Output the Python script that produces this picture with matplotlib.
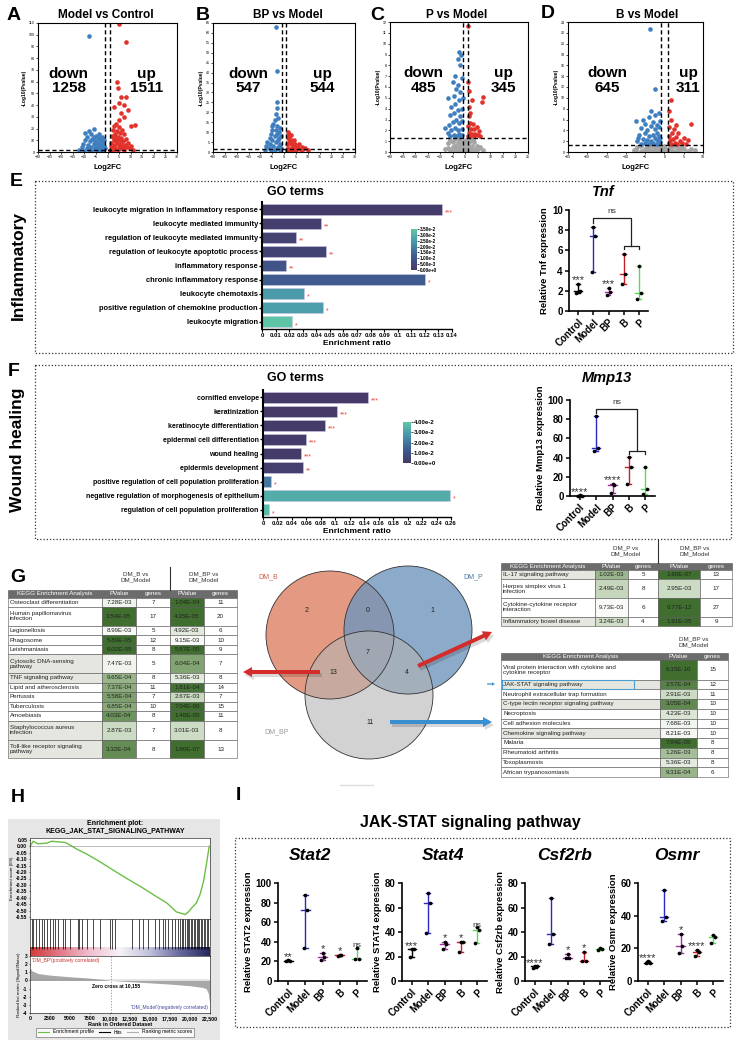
import numpy as np
import matplotlib
matplotlib.use('Agg')
import matplotlib.pyplot as plt
from matplotlib.patches import Rectangle, Circle, FancyArrow
from matplotlib.colors import LinearSegmentedColormap, Normalize
from matplotlib.cm import ScalarMappable
from matplotlib.lines import Line2D

plt.rcParams['font.family'] = ['Liberation Sans', 'DejaVu Sans']

# ---------------- volcano data (log2FC, -log10 P) ----------------
A_down = [(-12.5, 2), (-11, 4), (-10.5, 7), (-10, 1), (-9.5, 10), (-9, 3), (-8.8, 13), (-8.5, 6), (-8, 2),
          (-7.5, 9), (-7.2, 15), (-7, 4), (-6.8, 11), (-6.5, 1), (-6, 7), (-6, 13), (-5.5, 3), (-5.2, 9),
          (-5, 14), (-4.8, 5), (-4.5, 1), (-4.2, 11), (-4, 8), (-3.8, 3), (-3.5, 12), (-3.2, 6), (-3, 2),
          (-2.8, 9), (-2.5, 4), (-2.2, 11), (-2, 7), (-1.8, 2), (-1.5, 10), (-1.3, 5), (-1.1, 3),
          (-9.8, 16), (-7.8, 18), (-5.8, 20), (-3.6, 15), (-2.4, 13), (-8, 99)]
A_up = [(1.2, 2), (1.5, 8), (1.8, 14), (2, 4), (2.2, 19), (2.5, 1), (2.6, 10), (2.8, 22), (3, 6), (3.2, 15),
        (3.4, 3), (3.6, 12), (3.8, 24), (4, 8), (4.2, 18), (4.4, 2), (4.6, 13), (4.8, 5), (5, 21), (5.2, 10),
        (5.4, 16), (5.6, 3), (5.8, 7), (6, 12), (6.2, 19), (6.5, 4), (6.8, 9), (7, 15), (7.3, 2), (7.6, 6),
        (8, 11), (8.5, 4), (9, 8), (9.5, 3), (10, 5), (11, 2), (1.5, 5), (2.4, 13), (3.5, 9), (4.5, 11),
        (5.5, 6), (12, 23), (10, 22), (4, 60), (4.5, 55), (6, 47), (8, 47), (5, 42), (7, 40), (3, 38),
        (9, 36), (6, 33), (7, 30), (5, 27), (5, 109), (8, 94)]
B_down = [(-8, 1), (-7.5, 3), (-7, 5), (-6.5, 2), (-6, 7), (-6, 4), (-5.5, 9), (-5.5, 1), (-5, 6), (-5, 11),
          (-4.5, 3), (-4.5, 14), (-4, 8), (-4, 1), (-4, 16), (-3.5, 5), (-3.5, 11), (-3, 2), (-3, 9), (-3, 13),
          (-2.5, 6), (-2.5, 17), (-2.2, 3), (-2, 10), (-2, 7), (-1.8, 1), (-1.5, 4), (-1.5, 12), (-1.2, 8),
          (-1.1, 2), (-3.5, 19), (-3, 22), (-2.8, 25), (-2.9, 41), (-3.3, 63), (-5, 13)]
B_up = [(1.2, 1), (1.3, 4), (1.5, 7), (1.8, 2), (2, 5), (2.2, 8), (2.5, 1), (2.8, 4), (3, 6), (3.2, 2),
        (3.5, 5), (3.8, 1), (4, 3), (4.2, 6), (4.5, 2), (4.8, 4), (5, 1), (5.5, 3), (6, 2), (6.5, 4), (7, 1),
        (7.5, 2.5), (8, 1.5), (9, 2), (10, 1), (1.5, 10), (2, 9), (3, 8.5), (2.5, 6), (4, 4.5)]
C_ns = [(-8, 0.3), (-7, 0.8), (-6, 0.2), (-6, 1.1), (-5, 0.5), (-5, 0.9), (-4, 0.1), (-4, 0.6), (-4, 1.2),
        (-3, 0.3), (-3, 0.8), (-2.5, 1.1), (-2, 0.2), (-2, 0.6), (-1.5, 0.9), (-1, 0.1), (-1, 0.5), (-0.5, 1.0),
        (0, 0.2), (0, 0.7), (0.5, 0.4), (0.5, 1.2), (1, 0.1), (1, 0.8), (1.5, 0.5), (2, 0.2), (2, 1.0),
        (2.5, 0.6), (3, 0.3), (3.5, 0.9), (4, 0.2), (4.5, 0.6), (5, 0.3), (6, 0.5), (7, 0.2), (-7, 0.4),
        (-5.5, 0.1), (3, 1.2), (-3.5, 0.4), (1.5, 1.1)]
C_down = [(-7, 1.8), (-6.5, 2.5), (-6, 3.4), (-6, 1.5), (-5.5, 2.0), (-5.5, 4.2), (-5, 2.8), (-5, 6.5),
          (-4.5, 1.6), (-4.5, 3.6), (-4.5, 5.2), (-4, 2.2), (-4, 4.4), (-4, 7.0), (-3.5, 1.5), (-3.5, 3.0),
          (-3.5, 5.8), (-3, 2.0), (-3, 3.9), (-3, 6.2), (-2.5, 1.7), (-2.5, 2.7), (-2.5, 4.8), (-2, 1.4),
          (-2, 3.3), (-2, 5.5), (-2, 8.0), (-1.5, 2.1), (-1.5, 4.0), (-1.5, 6.8), (-1.2, 1.6), (-1.2, 2.9),
          (-1.1, 5.0), (-2.5, 9.2), (-3, 8.6), (-1.8, 9.0), (-8, 2.2), (-6.8, 5.0)]
C_up = [(1.1, 1.5), (1.2, 2.4), (1.3, 3.3), (1.5, 1.8), (1.6, 4.2), (1.8, 2.7), (2, 1.5), (2, 3.6), (2.3, 2.1),
        (2.5, 4.8), (2.8, 1.7), (3, 2.6), (3.3, 1.5), (3.6, 2.1), (4, 1.7), (4.5, 2.3), (5, 1.6), (5.5, 1.9),
        (6, 1.5), (1.4, 5.6), (1.2, 6.5), (6.5, 4.6), (7, 5.1), (1.1, 11.6)]
D_ns = [(-8, 0.4), (-7, 0.9), (-6, 0.2), (-6, 1.1), (-5, 0.6), (-4.5, 1.2), (-4, 0.2), (-4, 0.8), (-3, 0.4),
        (-3, 1.1), (-2.5, 0.7), (-2, 0.2), (-2, 1.0), (-1.5, 0.5), (-1, 0.2), (-1, 0.9), (-0.5, 0.5), (0, 0.2),
        (0, 1.1), (0.5, 0.6), (1, 0.3), (1.5, 0.9), (2, 0.4), (2.5, 1.1), (3, 0.2), (3.5, 0.7), (4, 0.3),
        (5, 0.6), (6, 0.2), (7, 0.5), (8, 0.3), (-5, 0.1), (4.5, 1.0), (-7.5, 0.3)]
D_down = [(-7.5, 5.8), (-7, 2.0), (-6.5, 3.2), (-6, 1.5), (-6, 4.5), (-5.5, 2.4), (-5.5, 6.0), (-5, 1.6),
          (-5, 3.5), (-5, 5.2), (-4.5, 2.2), (-4.5, 4.0), (-4, 1.5), (-4, 3.0), (-4, 6.5), (-3.5, 2.0),
          (-3.5, 4.8), (-3.5, 7.5), (-3, 1.6), (-3, 3.2), (-3, 5.5), (-2.5, 2.5), (-2.5, 4.2), (-2.5, 6.8),
          (-2, 1.5), (-2, 3.6), (-2, 5.0), (-1.8, 2.2), (-1.5, 3.0), (-1.5, 4.6), (-1.5, 7.2), (-1.2, 1.8),
          (-1.2, 5.8), (-1.1, 2.6), (-2.4, 11.7), (-3.7, 22.7), (-6.8, 2.6)]
D_up = [(1.1, 1.6), (1.2, 3.0), (1.3, 4.6), (1.5, 2.2), (1.6, 6.0), (1.8, 1.5), (2, 3.5), (2.2, 2.4),
        (2.5, 4.2), (2.8, 1.7), (3, 2.8), (3.3, 1.5), (3.6, 3.6), (4, 2.0), (4.5, 1.6), (5, 2.6), (5.5, 1.5),
        (6, 2.2), (1.7, 9.6), (1.3, 7.5), (7, 5.2), (3, 5.0)]
deg_counts = {'A': (1258, 1511), 'B': (547, 544), 'C': (485, 345), 'D': (645, 311)}

# ---------------- GO enrichment ----------------
E_terms = ['leukocyte migration in inflammatory response', 'leukocyte mediated immunity',
           'regulation of leukocyte mediated immunity', 'regulation of leukocyte apoptotic process',
           'inflammatory response', 'chronic inflammatory response', 'leukocyte chemotaxis',
           'positive regulation of chemokine production', 'leukocyte migration']
E_ratio = [0.133, 0.0435, 0.025, 0.047, 0.0175, 0.12, 0.031, 0.045, 0.022]
E_padj = [0.0005, 0.002, 0.003, 0.0035, 0.0095, 0.012, 0.025, 0.026, 0.034]
F_terms = ['cornified envelope', 'keratinization', 'keratinocyte differentiation',
           'epidermal cell differentiation', 'wound healing', 'epidermis development',
           'positive regulation of cell population proliferation',
           'negative regulation of morphogenesis of epithelium', 'regulation of cell population proliferation']
F_ratio = [0.145, 0.103, 0.086, 0.06, 0.053, 0.055, 0.011, 0.259, 0.008]
F_padj = [0.0002, 0.0003, 0.0004, 0.0005, 0.0006, 0.002, 0.02, 0.033, 0.037]

# ---------------- qPCR expression (3 replicates per group) ----------------
groups = ['Control', 'Model', 'BP', 'B', 'P']
Tnf = [[1.8, 1.95, 2.7], [3.9, 7.45, 8.3], [1.6, 1.9, 2.3], [2.7, 3.7, 5.6], [1.15, 1.75, 4.45]]
Tnf_sig = ['***', '', '***', '', '']
Mmp13 = [[0.3, 0.5, 0.6], [47, 50, 83], [3, 11, 12.5], [13, 30, 41], [2, 7, 30]]
Mmp13_sig = ['****', '', '****', '', '']
Stat2 = [[20, 20.5, 21], [34, 72.5, 88], [21, 24, 29], [26, 26.5, 27], [22, 22, 34]]
Stat4 = [[20, 26, 26], [39, 64, 72], [26, 30, 32], [24, 32, 32], [31, 42, 44]]
Csf2rb = [[11, 12, 12], [30, 38, 68], [19, 19, 22], [16, 16, 24], [25, 26, 27]]
Osmr = [[11, 11, 12], [37, 39, 56], [17, 21.5, 29], [15.5, 18, 19], [23.5, 27, 28]]
I_genes = ['Stat2', 'Stat4', 'Csf2rb', 'Osmr']
I_ylabels = ['Relative STAT2 expression', 'Relative STAT4 expression',
             'Relative Csf2rb expression', 'Relative Osmr expression']
I_values = [Stat2, Stat4, Csf2rb, Osmr]
I_sig = [['**', '', '*', '*', 'ns'], ['***', '', '*', '*', 'ns'],
         ['****', '', '*', '*', ''], ['****', '', '*', '****', '']]
I_ymax = [100, 80, 80, 60]

# ---------------- KEGG tables ----------------
GL_terms = ['Osteoclast differentiation', 'Human papillomavirus\ninfection', 'Legionellosis', 'Phagosome',
            'Leishmaniasis', 'Cytosolic DNA-sensing\npathway', 'TNF signaling pathway',
            'Lipid and atherosclerosis', 'Pertussis', 'Tuberculosis', 'Amoebiasis',
            'Staphylococcus aureus\ninfection', 'Toll-like receptor signaling\npathway']
GL_p_B = ['7.28E-03', '3.54E-05', '8.99E-03', '5.89E-05', '6.02E-05', '7.47E-03', '9.65E-04', '7.37E-04',
          '5.58E-04', '6.85E-04', '4.03E-04', '2.87E-03', '3.32E-04']
GL_n_B = [7, 17, 5, 12, 8, 5, 8, 11, 7, 10, 8, 7, 8]
GL_p_BP = ['1.04E-04', '4.35E-05', '4.92E-03', '9.15E-03', '5.87E-05', '6.04E-04', '5.36E-03', '1.81E-04',
           '2.67E-03', '7.04E-06', '1.40E-05', '3.01E-03', '1.80E-07']
GL_n_BP = [11, 20, 6, 10, 9, 7, 8, 14, 7, 15, 11, 8, 13]
GP_terms = ['IL-17 signaling pathway', 'Herpes simplex virus 1\ninfection',
            'Cytokine-cytokine receptor\ninteraction', 'Inflammatory bowel disease']
GP_p_P = ['1.02E-03', '2.49E-03', '9.73E-03', '3.24E-03']
GP_n_P = [5, 8, 6, 4]
GP_p_BP = ['1.60E-07', '2.95E-03', '6.77E-12', '1.91E-05']
GP_n_BP = [13, 17, 27, 9]
GB_terms = ['Viral protein interaction with cytokine and\ncytokine receptor', 'JAK-STAT signaling pathway',
            'Neutrophil extracellular trap formation', 'C-type lectin receptor signaling pathway',
            'Necroptosis', 'Cell adhesion molecules', 'Chemokine signaling pathway', 'Malaria',
            'Rheumatoid arthritis', 'Toxoplasmosis', 'African trypanosomiasis']
GB_p = ['6.15E-10', '2.57E-04', '2.91E-03', '3.05E-04', '4.23E-03', '7.68E-03', '8.21E-03', '7.84E-05',
        '1.26E-03', '5.36E-03', '9.31E-04']
GB_n = [15, 12, 11, 10, 10, 10, 10, 8, 8, 8, 6]

# Venn counts: B only, B&P, P only, all, B&BP, P&BP, BP only
venn_counts = [2, 0, 1, 7, 13, 4, 11]

# ---------------- GSEA ----------------
es_rank = [0, 400, 1000, 2100, 2700, 3500, 4400, 4800, 5800, 7100, 8750, 10400, 12100, 13750, 15400,
           17100, 18300, 19400, 19800, 20200, 20800, 21250, 21700, 22100, 22400]
es_value = [0.0, 0.04, 0.02, 0.025, 0.04, 0.035, 0.03, 0.018, -0.02, -0.06, -0.12, -0.185, -0.25, -0.31,
            -0.375, -0.44, -0.51, -0.53, -0.51, -0.48, -0.44, -0.375, -0.27, -0.12, 0.0]
hit_ranks = [208, 417, 750, 1167, 1458, 1792, 2083, 2500, 2833, 3125, 3542, 4167, 4375, 5000, 6042, 6167,
             6458, 7167, 7917, 8750, 10000, 10208, 10625, 12708, 13667, 14167, 14792, 15625, 16167, 16583,
             16875, 17292, 17708, 18125, 18542, 18750, 18958, 19167, 19417, 19583, 19792, 19917, 20125,
             20292, 20500, 20667, 20833, 21042, 21167, 21375, 21542, 21750, 21917, 22083, 22292]
metric_rank = [0, 200, 1000, 2500, 5000, 7500, 10155, 12500, 15000, 17500, 20000, 21500, 22000, 22300, 22450]
metric_value = [1.6, 1.2, 0.85, 0.65, 0.45, 0.28, 0.0, -0.15, -0.3, -0.45, -0.65, -0.85, -1.0, -1.6, -2.8]

# ---------------- figure ----------------
W, H = 736, 1044
fig = plt.figure(figsize=(W / 100, H / 100), dpi=100)


def rect(x0, y0, x1, y1):
    return [x0 / W, 1 - y1 / H, (x1 - x0) / W, (y1 - y0) / H]


ov = fig.add_axes([0, 0, 1, 1], zorder=-1)
ov.set_xlim(0, W)
ov.set_ylim(H, 0)
ov.axis('off')

# panel letters
for lab, x, y in [('A', 14, 15), ('B', 203, 15), ('C', 377, 15), ('D', 548, 14), ('E', 16, 181),
                  ('F', 14, 372), ('G', 18, 577), ('H', 18, 798), ('I', 238, 795)]:
    ov.text(x, y, lab, fontsize=14, fontweight='bold', ha='center', va='center')

# dotted boxes
for x0, y0, x1, y1 in [(35, 181, 733, 353), (35, 365, 731, 539), (235, 838, 730, 1027)]:
    ov.add_patch(Rectangle((x0, y0), x1 - x0, y1 - y0, fill=False, ls=(0, (1, 1.6)), lw=0.9, ec='#333333'))


# ---------- volcano ----------
def volcano(box, title, tx, xlim, xstep, ylim, ystep, down, up, ns, counts, dpos, upos):
    ax = fig.add_axes(rect(*box))
    if ns:
        ax.scatter(*zip(*ns), s=12, c='#a5a5a5', lw=0)
    ax.scatter(*zip(*down), s=11, c='#3f7fc0', lw=0)
    ax.scatter(*zip(*up), s=11, c='#e2322c', lw=0)
    for xv in (-1, 1):
        ax.axvline(xv, ls=(0, (3, 2)), c='k', lw=1)
    ax.axhline(1.3, ls=(0, (3, 2)), c='k', lw=1)
    ax.set_xlim(xlim)
    ax.set_ylim(ylim)
    ax.set_xticks(np.arange(xlim[0], xlim[1] + 0.1, xstep))
    ax.set_yticks(np.arange(0, ylim[1] + 0.01, ystep))
    ax.tick_params(labelsize=2.6, length=1.5, width=0.5, pad=1)
    for s in ax.spines.values():
        s.set_linewidth(0.8)
    ax.set_ylabel('-Log10(Pvalue)', fontsize=3.6, fontweight='bold', labelpad=1)
    ax.set_xlabel('Log2FC', fontsize=5.5, fontweight='bold', labelpad=3)
    ax.text(dpos, 0.55, f'down\n{counts[0]}', transform=ax.transAxes, ha='center', va='center',
            fontsize=11, fontweight='bold', linespacing=1.05)
    ax.text(upos, 0.55, f'up\n{counts[1]}', transform=ax.transAxes, ha='center', va='center',
            fontsize=11, fontweight='bold', linespacing=1.05)
    ov.text(tx, 15, title, fontsize=8.5, fontweight='bold', ha='center', va='center')


volcano((38, 23, 177, 152), 'Model vs Control', 106, (-30, 30), 5, (0, 110), 10, A_down, A_up, None,
        deg_counts['A'], 0.22, 0.78)
volcano((213, 23, 355, 152), 'BP vs Model', 288, (-30, 30), 5, (0, 65), 5, B_down, B_up, None,
        deg_counts['B'], 0.25, 0.77)
volcano((390, 22, 528, 152), 'P vs Model', 457, (-30, 25), 5, (0, 12), 1, C_down, C_up, C_ns,
        deg_counts['C'], 0.24, 0.82)
volcano((568, 22, 703, 152), 'B vs Model', 647, (-25, 10), 5, (0, 24), 2, D_down, D_up, D_ns,
        deg_counts['D'], 0.29, 0.89)

# ---------- GO bars ----------
padj_cmap = LinearSegmentedColormap.from_list('padj', ['#453a68', '#3f5a8e', '#4693ab', '#5fc8a6'])


def sci(v):
    if v == 0:
        return '0.00e+0'
    e = int(np.floor(np.log10(v) + 1e-9))
    return f'{v / 10 ** e:.2f}e{e}'


def go_bars(box, title_y, terms, ratios, padj, vmax, xmax, xstep, fs, cbox, cstep, cfs, pad_xy, pad_fs):
    ax = fig.add_axes(rect(*box))
    norm = Normalize(0, vmax)
    y = np.arange(len(terms))
    ax.barh(y, ratios, height=0.78, color=padj_cmap(norm(np.array(padj))), edgecolor='#cfc8e6', lw=0.4)
    for yi, r, p in zip(y, ratios, padj):
        st = '***' if p < 0.001 else '**' if p < 0.01 else '*'
        ax.text(r + xmax * 0.015, yi + 0.25, st, color='#e0463f', fontsize=5, va='center', ha='left')
    ax.set_ylim(len(terms) - 0.5, -0.5)
    ax.set_yticks(y)
    ax.set_yticklabels(terms, fontsize=fs, fontweight='bold')
    ticks = np.arange(0, xmax + 1e-9, xstep)
    ax.set_xlim(0, xmax)
    ax.set_xticks(ticks)
    ax.set_xticklabels([f'{round(t, 3):g}' for t in ticks], fontsize=4.3, fontweight='bold')
    ax.tick_params(axis='y', length=2, width=1, pad=1)
    ax.tick_params(axis='x', length=2, width=0.8, pad=1)
    for s in ('top', 'right'):
        ax.spines[s].set_visible(False)
    ax.spines['left'].set_linewidth(1.5)
    ax.spines['bottom'].set_linewidth(1.0)
    ax.set_xlabel('Enrichment ratio', fontsize=6, fontweight='bold', labelpad=1.5)
    ov.text(295, title_y, 'GO terms', fontsize=9, fontweight='bold', ha='center', va='center')
    cax = fig.add_axes(rect(*cbox))
    cticks = np.arange(0, vmax + 1e-9, cstep)
    cb = fig.colorbar(ScalarMappable(norm=norm, cmap=padj_cmap), cax=cax, ticks=cticks)
    cb.ax.set_yticklabels([sci(t) for t in cticks], fontsize=cfs, fontweight='bold')
    cb.ax.tick_params(length=1.5, width=0.5, pad=0.5)
    cb.outline.set_visible(False)
    ov.text(pad_xy[0], pad_xy[1], 'Padjust', fontsize=pad_fs, fontweight='bold', ha='center', va='center')


go_bars((262, 202, 452, 329), 192, E_terms, E_ratio, E_padj, 0.035, 0.14, 0.01, 5.4,
        (411, 229, 417, 270), 0.005, 3.4, (425, 221), 5)
go_bars((263, 390, 451, 517), 378, F_terms, F_ratio, F_padj, 0.04, 0.26, 0.02, 5.0,
        (403, 422, 411, 463), 0.01, 4.4, (418, 411), 6.5)

ov.text(18, 266, 'Inflammatory', rotation=90, fontsize=12.5, fontweight='bold', ha='center', va='center')
ov.text(18, 450, 'Wound healing', rotation=90, fontsize=12.5, fontweight='bold', ha='center', va='center')

# ---------- expression plots ----------
group_colors = ['#000000', '#2a2ac0', '#a3309f', '#c8202a', '#55dd55']
jit = [-0.11, 0.11, 0.0]


def expr(box, title, tx, ty, tfs, ylabel, vals, sig, ymax, ystep, bracket=None):
    ax = fig.add_axes(rect(*box))
    for i, (v, c) in enumerate(zip(vals, group_colors)):
        v = np.sort(v)
        med = np.median(v)
        ax.plot([i, i], [v[0], v[-1]], color=c, lw=1, clip_on=False)
        for yy in (v[0], v[-1]):
            ax.plot([i - 0.13, i + 0.13], [yy, yy], color=c, lw=1, clip_on=False)
        ax.plot([i - 0.25, i + 0.25], [med, med], color=c, lw=1, clip_on=False)
        ax.scatter(i + np.array(jit), v, s=7, c='k', zorder=3, lw=0, clip_on=False)
        if sig[i]:
            fs = 6 if sig[i] == 'ns' else 8
            ax.text(i, v[-1] - ymax * 0.015, sig[i], ha='center', va='bottom', fontsize=fs, color='#333333')
    if bracket:
        top, low, start = bracket
        ax.plot([1, 1, 3.5, 3.5], [start, top, top, low], color='#222222', lw=0.9)
        ax.plot([3, 3, 4, 4], [low - ymax * 0.03, low, low, low - ymax * 0.03], color='#222222', lw=0.9)
        ax.text(2.25, top + ymax * 0.03, 'ns', ha='center', va='bottom', fontsize=6, color='#333333')
    ax.set_xlim(-0.6, 4.6)
    ax.set_ylim(0, ymax)
    ax.set_yticks(np.arange(0, ymax + 0.1, ystep))
    ax.set_yticklabels([f'{t:g}' for t in np.arange(0, ymax + 0.1, ystep)], fontsize=7, fontweight='bold')
    ax.set_xticks(range(len(groups)))
    ax.set_xticklabels(groups, rotation=45, ha='right', rotation_mode='anchor', fontsize=7, fontweight='bold')
    ax.tick_params(length=3, width=1.1, pad=1.5)
    for s in ('top', 'right'):
        ax.spines[s].set_visible(False)
    for s in ('left', 'bottom'):
        ax.spines[s].set_linewidth(1.2)
    ax.set_ylabel(ylabel, fontsize=6.8, fontweight='bold', labelpad=2)
    ov.text(tx, ty, title, fontsize=tfs, fontweight='bold', style='italic', ha='center', va='center')


expr((569, 210, 648, 311), 'Tnf', 603, 192, 10.5, 'Relative Tnf expression', Tnf, Tnf_sig, 10, 2,
     bracket=(9.2, 6.4, 8.7))
expr((570, 400, 655, 496), 'Mmp13', 607, 378, 10.5, 'Relative Mmp13 expression', Mmp13, Mmp13_sig, 100, 20,
     bracket=(91, 47, 86))

I_boxes = [(278, 883, 367, 981), (402, 883, 487, 981), (525, 883, 610, 981), (638, 883, 723, 981)]
I_tx = [310, 443, 565, 677]
for box, g, tx, yl, vals, sg, ym in zip(I_boxes, I_genes, I_tx, I_ylabels, I_values, I_sig, I_ymax):
    expr(box, g, tx, 855, 12.5, yl, vals, sg, ym, 20)
ov.text(470, 822, 'JAK-STAT signaling pathway', fontsize=11.5, fontweight='bold', ha='center', va='center')

# ---------- Venn ----------
for (cx, cy), fc, al in [((330, 635), '#e0876c', 0.85), ((408, 630), '#6f96bd', 0.8), ((369, 695), '#b4b4b4', 0.6)]:
    ov.add_patch(Circle((cx, cy), 64, fc=fc, alpha=al, ec='none'))
for cx, cy in [(330, 635), (408, 630), (369, 695)]:
    ov.add_patch(Circle((cx, cy), 64, fill=False, ec='#333333', lw=0.6))
venn_xy = [(307, 610), (368, 610), (432, 610), (368, 653), (333, 672), (407, 672), (370, 722)]
for (x, y), n in zip(venn_xy, venn_counts):
    ov.text(x, y, str(n), fontsize=5, ha='center', va='center', color='#222222')
ov.text(268, 577, 'DM_B', fontsize=5, color='#d0604a', ha='center', va='center')
ov.text(473, 577, 'DM_P', fontsize=5, color='#4a7aa8', ha='center', va='center')
ov.text(277, 732, 'DM_BP', fontsize=5, color='#9a9a9a', ha='center', va='center')
ov.plot([340, 373], [785, 785], color='#dddddd', lw=1)


def arrow(x0, y0, x1, y1, color):
    ov.add_patch(FancyArrow(x0 + 2, y0 + 3, x1 - x0, y1 - y0, width=4, head_width=10, head_length=9,
                            length_includes_head=True, color='#000000', alpha=0.15, lw=0))
    ov.add_patch(FancyArrow(x0, y0, x1 - x0, y1 - y0, width=4, head_width=10, head_length=9,
                            length_includes_head=True, color=color, lw=0))


arrow(320, 672, 243, 672, '#d42b2b')
arrow(418, 666, 492, 632, '#d42b2b')
arrow(390, 722, 492, 722, '#3a8fd0')

# ---------- tables ----------
green_cmap = LinearSegmentedColormap.from_list('g', ['#ffffff', '#c9d9c0', '#86a776', '#3f6e2f'])
green_norm = Normalize(1.95, 3.8, clip=True)


def table(xe, ytop, hh, uh, header, cols, pcols, shaded, fs=4.5):
    ov.add_patch(Rectangle((xe[0], ytop), xe[-1] - xe[0], hh, fc='#6c6c6c', ec='#555555', lw=0.4))
    for j, hd in enumerate(header):
        ov.text((xe[j] + xe[j + 1]) / 2, ytop + hh / 2, hd, color='white', ha='center', va='center', fontsize=fs)
    y = ytop + hh
    for i, row in enumerate(zip(*cols)):
        h = uh * (row[0].count('\n') + 1)
        for j, val in enumerate(row):
            x0, x1 = xe[j], xe[j + 1]
            if j in pcols:
                fc = green_cmap(green_norm(-np.log10(float(val))))
            elif j == 0 and i in shaded:
                fc = '#e6e6e0'
            else:
                fc = 'white'
            ov.add_patch(Rectangle((x0, y), x1 - x0, h, fc=fc, ec='#555555', lw=0.4))
            if j == 0:
                ov.text(x0 + 2, y + h / 2, val, ha='left', va='center', fontsize=fs, color='#222222',
                        linespacing=1.0)
            else:
                ov.text((x0 + x1) / 2, y + h / 2, str(val), ha='center', va='center', fontsize=fs,
                        color='#222222')
        y += h
    return y


hdr5 = ['KEGG Enrichment Analysis', 'PValue', 'genes', 'PValue', 'genes']
table([8, 102, 136, 170, 204, 237], 590, 7.5, 9.47, hdr5, [GL_terms, GL_p_B, GL_n_B, GL_p_BP, GL_n_BP],
      (1, 3), (5, 6, 11, 12))
ov.text(136, 577, 'DM_B vs\nDM_Model', fontsize=4.5, ha='center', va='center', color='#333333')
ov.text(204, 577, 'DM_BP vs\nDM_Model', fontsize=4.5, ha='center', va='center', color='#333333')
ov.plot([170, 170], [567, 590], color='#333333', lw=0.8)

table([501, 595, 628, 658, 700, 732], 563, 7, 9.33, hdr5, [GP_terms, GP_p_P, GP_n_P, GP_p_BP, GP_n_BP],
      (1, 3), (0, 3))
ov.text(626, 551, 'DM_P vs\nDM_Model', fontsize=4.5, ha='center', va='center', color='#333333')
ov.text(695, 551, 'DM_BP vs\nDM_Model', fontsize=4.5, ha='center', va='center', color='#333333')
ov.plot([658, 658], [540, 563], color='#333333', lw=0.8)

table([501, 660, 697, 728], 653, 7, 9.75, hdr5[:3], [GB_terms, GB_p, GB_n], (1,), (1, 3, 6))
ov.text(694, 642, 'DM_BP vs\nDM_Model', fontsize=4.5, ha='center', va='center', color='#333333')
ov.add_patch(Rectangle((502, 679.5), 132, 9, fill=False, ec='#4a9fd0', lw=0.8))
ov.add_patch(FancyArrow(487, 684, 8, 0, width=1.2, head_width=3.5, head_length=3, color='#3a8fd0',
                        length_includes_head=True, lw=0))

# ---------- GSEA ----------
ov.add_patch(Rectangle((8, 819), 212, 221, fc='#e6e6e6', ec='none'))
ov.text(115, 827, 'Enrichment plot:\nKEGG_JAK_STAT_SIGNALING_PATHWAY', fontsize=5, fontweight='bold',
        ha='center', va='center', linespacing=1.0)

es_ax = fig.add_axes(rect(30, 838, 210, 919))
es_ax.plot(es_rank, es_value, color='#6cbf45', lw=1)
es_ax.axhline(0, color='#888888', lw=0.4)
es_ax.set_xlim(0, 22500)
es_ax.set_ylim(-0.565, 0.065)
yt = np.arange(-0.55, 0.051, 0.05)
es_ax.set_yticks(yt)
es_ax.set_yticklabels([f'{t:.2f}' for t in yt], fontsize=3.6, fontweight='bold')
es_ax.set_xticks([])
es_ax.tick_params(length=1, width=0.4, pad=1)
es_ax.set_ylabel('Enrichment score (ES)', fontsize=3.2, labelpad=1)
for s in es_ax.spines.values():
    s.set_linewidth(0.4)

rank_cmap = LinearSegmentedColormap.from_list(
    'rank', ['#d23a3a', '#e27a8a', '#f0c0d0', '#f6f2f6', '#c0c0dc', '#6868a0', '#26265e'])
hit_ax = fig.add_axes(rect(30, 919, 210, 956))
hit_ax.vlines(hit_ranks, 0.2, 1, color='k', lw=0.5)
hit_ax.imshow(np.linspace(0, 1, 256)[None, :], extent=[0, 22500, 0, 0.22], aspect='auto', cmap=rank_cmap)
hit_ax.set_xlim(0, 22500)
hit_ax.set_ylim(0, 1)
hit_ax.set_xticks([])
hit_ax.set_yticks([])
for s in hit_ax.spines.values():
    s.set_linewidth(0.4)

mx = fig.add_axes(rect(30, 956, 210, 1013))
mx.fill_between(metric_rank, metric_value, 0, color='#a8a8a8', lw=0)
mx.axvline(10155, ls=(0, (2, 2)), color='#888888', lw=0.5)
mx.axhline(0, color='#888888', lw=0.3)
mx.text(10800, -0.6, 'Zero cross at 10,155', fontsize=3.6, fontweight='bold', ha='center', va='center')
mx.text(300, 2.45, "'DM_BP'(positively correlated)", fontsize=3.6, color='#d03030', ha='left', va='center')
mx.text(22200, -3.3, "'DM_Model'(negatively correlated)", fontsize=3.6, color='#4545a0', ha='right',
        va='center')
mx.set_xlim(0, 22500)
mx.set_ylim(-4, 3)
mx.set_yticks(range(-4, 4))
mx.set_yticklabels([str(t) for t in range(-4, 4)], fontsize=3.6, fontweight='bold')
xt = [0, 2500, 5000, 7500, 10000, 12500, 15000, 17500, 20000, 22500]
mx.set_xticks(xt)
mx.set_xticklabels([f'{t:,}' if t >= 10000 else str(t) for t in xt], fontsize=3.8, fontweight='bold')
mx.tick_params(length=1, width=0.4, pad=1)
mx.set_xlabel('Rank in Ordered Dataset', fontsize=4, fontweight='bold', labelpad=1)
mx.set_ylabel('Ranked list metric (Signal2Noise)', fontsize=3.2, labelpad=1)
for s in mx.spines.values():
    s.set_linewidth(0.4)

handles = [Line2D([], [], color='#6cbf45', lw=0.8), Line2D([], [], color='k', lw=0.8),
           Line2D([], [], color='#b0b0b0', lw=0.8)]
leg = fig.legend(handles, ['Enrichment profile', 'Hits', 'Ranking metric scores'], loc='center',
                 bbox_to_anchor=(115 / W, 1 - 1032 / H), ncol=3, fontsize=3.6, frameon=True,
                 handlelength=2.2, columnspacing=1.0, borderpad=0.4, fancybox=False)
leg.get_frame().set_linewidth(0.4)
leg.get_frame().set_edgecolor('#333333')

fig.savefig('out.png', dpi=100)
